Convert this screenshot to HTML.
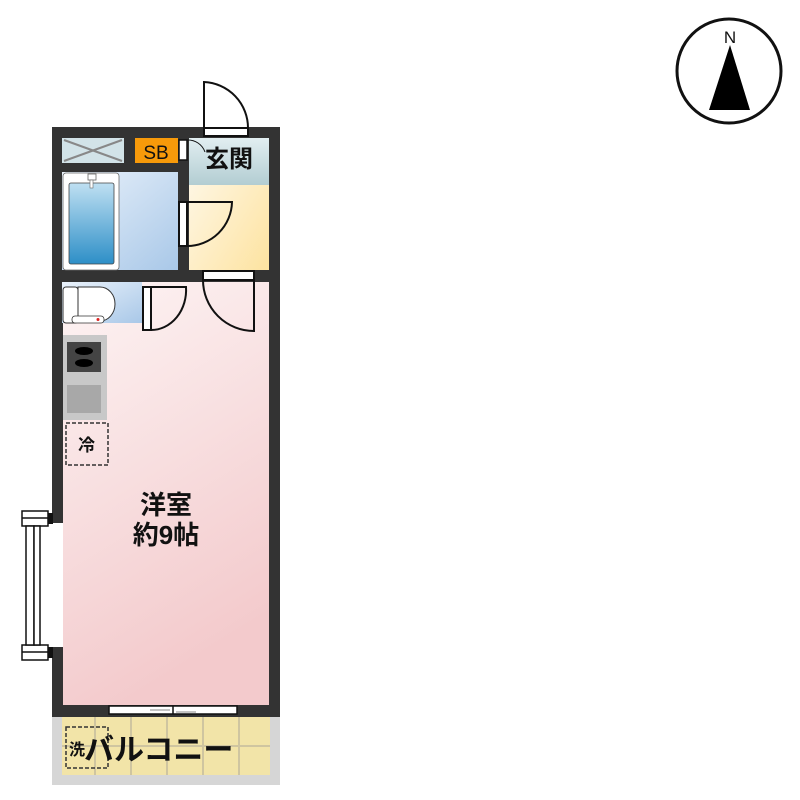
<!DOCTYPE html>
<html><head><meta charset="utf-8"><style>
html,body{margin:0;padding:0;background:#fff;width:800px;height:800px;overflow:hidden}
svg{display:block}
text{font-family:"Liberation Sans","Noto Sans CJK JP",sans-serif;font-weight:bold;fill:#111}
</style></head><body>
<svg width="800" height="800" viewBox="0 0 800 800">
<defs>
<linearGradient id="pink" x1="0" y1="0" x2="0.3" y2="1"><stop offset="0" stop-color="#fdf4f4"/><stop offset="1" stop-color="#f3cacc"/></linearGradient>
<linearGradient id="yel" x1="0" y1="0" x2="1" y2="1"><stop offset="0" stop-color="#fffaf0"/><stop offset="1" stop-color="#fde3a0"/></linearGradient>
<linearGradient id="teal" x1="0" y1="0" x2="0" y2="1"><stop offset="0" stop-color="#e2eef1"/><stop offset="1" stop-color="#b3cdd2"/></linearGradient>
<linearGradient id="bath" x1="0" y1="0" x2="1" y2="1"><stop offset="0" stop-color="#eaf2fb"/><stop offset="1" stop-color="#a9c8e8"/></linearGradient>
<linearGradient id="tub" x1="0" y1="0" x2="0" y2="1"><stop offset="0" stop-color="#bfe0f2"/><stop offset="1" stop-color="#2d8fc7"/></linearGradient>
</defs>
<circle cx="729" cy="71" r="52" fill="#fff" stroke="#111" stroke-width="3"/>
<text x="730" y="43" font-size="17" text-anchor="middle" style="font-weight:normal">N</text>
<polygon points="730,45 709,110 750,110" fill="#000"/>
<rect x="52" y="715" width="228" height="70" fill="#d6d6d6"/>
<rect x="62" y="717" width="208" height="58" fill="#f2e4a8"/>
<g stroke="#cfc5a0" stroke-width="2">
<line x1="95" y1="717" x2="95" y2="775"/><line x1="131" y1="717" x2="131" y2="775"/><line x1="167" y1="717" x2="167" y2="775"/><line x1="203" y1="717" x2="203" y2="775"/><line x1="239" y1="717" x2="239" y2="775"/>
<line x1="62" y1="746" x2="270" y2="746"/>
</g>
<rect x="66" y="727" width="42" height="41" fill="none" stroke="#333" stroke-width="1.5" stroke-dasharray="4,2"/>
<text x="69" y="755" font-size="16">洗</text>
<text x="84" y="760" font-size="30">バルコニー</text>
<rect x="52" y="127" width="228" height="590" fill="#333"/>
<rect x="63" y="282" width="206" height="423" fill="url(#pink)"/>
<rect x="189" y="138" width="80" height="132" fill="url(#yel)"/>
<rect x="189" y="138" width="80" height="47" fill="url(#teal)"/>
<rect x="62" y="172" width="116" height="98" fill="url(#bath)"/>
<rect x="63" y="173" width="56" height="97" rx="3" fill="#fff" stroke="#666" stroke-width="0.8"/>
<rect x="69" y="183" width="45" height="81" rx="2" fill="url(#tub)" stroke="#444" stroke-width="0.8"/>
<rect x="88" y="174" width="8" height="6" fill="#fff" stroke="#666" stroke-width="0.8"/>
<rect x="90" y="180" width="3" height="8" fill="#fff" stroke="#666" stroke-width="0.6"/>
<rect x="62" y="138" width="62" height="25" fill="#d2e3e8"/>
<g stroke="#888" stroke-width="2"><line x1="64" y1="140" x2="122" y2="161"/><line x1="64" y1="161" x2="122" y2="140"/></g>
<rect x="135" y="138" width="43" height="25" fill="#f79a0a"/>
<text x="156" y="159" font-size="19" text-anchor="middle" style="font-weight:normal">SB</text>
<text x="229" y="167" font-size="24" text-anchor="middle">玄関</text>
<rect x="62" y="282" width="80" height="41" fill="url(#bath)"/>
<rect x="63" y="287" width="15" height="36" rx="3" fill="#fff" stroke="#333" stroke-width="1"/>
<path d="M78 287 H100 A15 17 0 0 1 100 321 H78 Z" fill="#fff" stroke="#333" stroke-width="1"/>
<rect x="72" y="316" width="32" height="7" rx="3" fill="#fff" stroke="#333" stroke-width="0.8"/>
<circle cx="98" cy="319.5" r="1.5" fill="#d22"/>
<rect x="63" y="335" width="44" height="85" fill="#c8c8c8"/>
<rect x="67" y="342" width="34" height="30" fill="#444"/>
<ellipse cx="84" cy="351" rx="9" ry="4" fill="#000"/><ellipse cx="84" cy="363" rx="9" ry="4" fill="#000"/>
<rect x="67" y="385" width="34" height="28" fill="#a8a8a8"/>
<rect x="66" y="423" width="42" height="42" fill="none" stroke="#333" stroke-width="1.5" stroke-dasharray="4,2"/>
<text x="78" y="451" font-size="17">冷</text>
<text x="166" y="514" font-size="26" text-anchor="middle">洋室</text>
<text x="166" y="544" font-size="26" text-anchor="middle">約9帖</text>
<g fill="none" stroke="#111" stroke-width="2">
<rect x="204" y="128" width="44" height="8" fill="#fff"/>
<path d="M204 128 V82 A46 46 0 0 1 248 128"/>
<rect x="179" y="140" width="8" height="20" fill="#fff" stroke-width="1.5"/>
<path d="M187 140 A18 18 0 0 1 205 152" stroke-width="1"/>
<rect x="179" y="202" width="8" height="44" fill="#fff"/>
<path d="M187 202 H232 A45 45 0 0 1 187 246"/>
<rect x="203" y="271" width="51" height="9" fill="#fff"/>
<path d="M254 280 V331 A51 51 0 0 1 203 280"/>
<rect x="143" y="287" width="8" height="43" fill="#fff"/>
<path d="M151 287 H186 A35 40 0 0 1 151 330"/>
</g>
<rect x="109" y="706" width="128" height="8" fill="#fff" stroke="#111" stroke-width="1.5"/>
<line x1="173" y1="706" x2="173" y2="714" stroke="#111" stroke-width="1.5"/>
<line x1="150" y1="710" x2="170" y2="710" stroke="#888"/><line x1="176" y1="712" x2="196" y2="712" stroke="#888"/>
<rect x="52" y="523" width="11" height="124" fill="#fff"/>
<g fill="#fff" stroke="#111" stroke-width="1.5">
<rect x="22" y="511" width="26" height="15"/><rect x="22" y="645" width="26" height="15"/>
<line x1="22" y1="518" x2="48" y2="518"/><line x1="22" y1="652" x2="48" y2="652"/>
<rect x="26" y="526" width="8" height="119"/><rect x="34" y="526" width="6" height="119"/>
</g>
<rect x="48" y="513" width="5" height="11" fill="#111"/><rect x="48" y="647" width="5" height="11" fill="#111"/>
</svg>
</body></html>
